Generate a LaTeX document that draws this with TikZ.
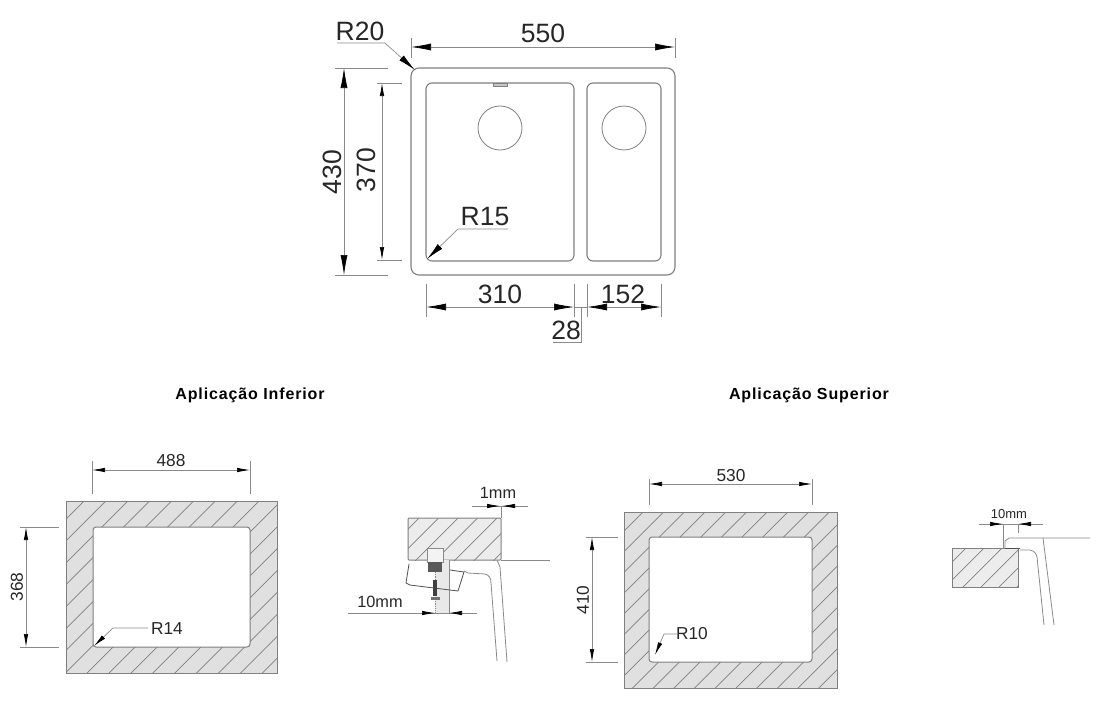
\documentclass[tikz,border=0pt]{standalone}
\usepackage{fontspec}
\setmainfont{Liberation Sans}
\newfontfamily\titlefont[LetterSpace=5.5]{Liberation Sans}
\usetikzlibrary{arrows.meta,positioning}
\definecolor{inkgray}{HTML}{262626}
\definecolor{sinkgray}{HTML}{808080}
\definecolor{thingray}{HTML}{8A8A8A}
\definecolor{ringgray}{HTML}{E0E0E0}
\tikzset{
    sinkline/.style={
            draw=sinkgray,
            line width=1.1pt
        },
    dimline/.style={
            draw=thingray,
            line width=0.7pt
        },
    bigdim/.style={
            dimline,
            {Latex[length=20pt,width=7pt,black]}-{Latex[length=20pt,width=7pt,black]}
        },
    smalldim/.style={
            dimline,
            {Latex[length=13pt,width=4.5pt,black]}-{Latex[length=13pt,width=4.5pt,black]}
        },
    bigleader/.style={
            dimline,
            -{Latex[length=18pt,width=6.5pt,black]}
        },
    smallleader/.style={
            dimline,
            -{Latex[length=13pt,width=4.5pt,black]}
        },
    bigtext/.style={
            font=\fontsize{26.5}{28}\selectfont,
            text=inkgray,
            inner sep=0pt
        },
    smalltext/.style={
            font=\fontsize{17.3}{20}\selectfont,
            text=inkgray,
            inner sep=0pt
        },
    detailtext/.style={
            font=\fontsize{16.3}{18}\selectfont,
            text=inkgray,
            inner sep=0pt
        },
    titletext/.style={
            font=\titlefont\bfseries\fontsize{16}{18}\selectfont,
            text=black,
            inner sep=0pt
        },
    hatchline/.style={
            draw=sinkgray,
            line width=0.7pt
        },
    ringedge/.style={
            draw=sinkgray,
            line width=1pt
        },
    detailline/.style={
            draw=thingray,
            line width=0.8pt
        }
}
\begin{document}
\begin{tikzpicture}[x=1pt,y=-1pt]
  \useasboundingbox (0,0) rectangle (1098,704);
  % sink seen from above
  \draw[sinkline,rounded corners=8pt] (411,68) rectangle (675,275);
  \draw[sinkline,rounded corners=6pt] (426,83) rectangle (574,261);
  \draw[sinkline,rounded corners=6pt] (587,83) rectangle (661,261);
  \draw[sinkline,line width=0.8pt] (500,128) circle (22);
  \draw[sinkline,line width=0.8pt] (624,128) circle (22);
  \draw[sinkline,line width=0.6pt,fill=thingray!50] (493,83) rectangle (507,86);
  % top dimensions
  \draw[bigdim] (411,47) -- (675,47);
  \draw[dimline] (411,38) -- (411,58);
  \draw[dimline] (675,38) -- (675,58);
  \node[bigtext] (width550) at (543,33) {550};
  \draw[bigdim] (344,68) -- (344,275);
  \draw[dimline] (335,68) -- (388,68);
  \draw[dimline] (335,275) -- (388,275);
  \node[bigtext,rotate=90] (height430) at (332,172) {430};
  \draw[smalldim] (382,83) -- (382,260);
  \draw[dimline] (377,83) -- (402,83);
  \draw[dimline] (377,260) -- (402,260);
  \node[bigtext,rotate=90] (height370) at (366,170) {370};
  \draw[bigdim] (426,307) -- (574,307);
  \draw[dimline] (426,284) -- (426,317);
  \draw[dimline] (574,284) -- (574,317);
  \node[bigtext] (width310) at (500,294) {310};
  \draw[bigdim] (587,307) -- (661,307);
  \draw[dimline] (587,284) -- (587,317);
  \draw[dimline] (661,284) -- (661,317);
  \node[bigtext] (width152) at (623,294) {152};
  \draw[dimline] (574,307) -- (587,307);
  \draw[dimline] (581,307) -- (581,342) -- (553,342);
  \node[bigtext] (gap28) at (566,330) {28};
  \node[bigtext] (radius20) at (360,31) {R20};
  \draw[bigleader] (337,43) -- (385,43) -- (415,70);
  \node[bigtext] (radius15) at (485,217) {R15};
  \draw[bigleader] (508,229) -- (458,229) -- (427,259);
  % titles
  \node[titletext] (lowertitle) at (250,395) {Aplicação Inferior};
  \node[titletext] (uppertitle) at (809,395) {Aplicação Superior};
  % cut-out, lower mounting
  \fill[ringgray,even odd rule] (66,501) rectangle (277,673) [rounded corners=3pt] (93,527) rectangle (250,647);
  \begin{scope}[even odd rule]
    \clip (66,501) rectangle (277,673) [rounded corners=3pt] (93,527) rectangle (250,647);
    \foreach \i in {0,...,17}
      \draw[hatchline] ({84+21.9*\i},501) -- ++(-240,240);
  \end{scope}
  \draw[ringedge] (66,501) rectangle (277,673);
  \draw[ringedge,rounded corners=3pt] (93,527) rectangle (250,647);
  \draw[smalldim] (92,470) -- (250,470);
  \draw[dimline] (92,461) -- (92,494);
  \draw[dimline] (250,461) -- (250,494);
  \node[smalltext] (width488) at (171,461) {488};
  \draw[smalldim] (26,527) -- (26,647);
  \draw[dimline] (20,527) -- (59,527);
  \draw[dimline] (20,647) -- (59,647);
  \node[smalltext,rotate=90] (height368) at (17,587) {368};
  \node[smalltext] (radius14) at (167,629) {R14};
  \draw[smallleader] (148,628) -- (113,628) -- (94,646);
  % cut-out, upper mounting
  \fill[ringgray,even odd rule] (624,512) rectangle (837,688) [rounded corners=3pt] (649,537) rectangle (812,662);
  \begin{scope}[even odd rule]
    \clip (624,512) rectangle (837,688) [rounded corners=3pt] (649,537) rectangle (812,662);
    \foreach \i in {0,...,18}
      \draw[hatchline] ({643+20.7*\i},512) -- ++(-240,240);
  \end{scope}
  \draw[ringedge] (624,512) rectangle (837,688);
  \draw[ringedge,rounded corners=3pt] (649,537) rectangle (812,662);
  \draw[smalldim] (649,484) -- (812,484);
  \draw[dimline] (649,479) -- (649,505);
  \draw[dimline] (812,479) -- (812,505);
  \node[smalltext] (width530) at (731,476) {530};
  \draw[smalldim] (592,537) -- (592,662);
  \draw[dimline] (586,537) -- (618,537);
  \draw[dimline] (586,662) -- (618,662);
  \node[smalltext,rotate=90] (height410) at (583,600) {410};
  \node[smalltext] (radius10) at (692,634) {R10};
  \draw[smallleader] (677,634) -- (664,634) -- (655,655);
  % section, lower mounting
  \fill[ringgray!60] (408,518) rectangle (501,560);
  \begin{scope}
    \clip (408,518) rectangle (501,560);
    \foreach \i in {-2,...,6}
      \draw[hatchline] ({419+19.5*\i},518) -- ++(-80,80);
  \end{scope}
  \draw[ringedge,rounded corners=1pt] (408,518) rectangle (501,560);
  \draw[detailline] (501,560) -- (550,560);
  \fill[ringgray!70] (435,560) rectangle (449,613);
  \draw[detailline] (449,560) -- (449,613);
  \draw[detailline,fill=ringgray!40] (427,548) rectangle (443,562);
  \fill[black!65] (428,562) rectangle (442,572);
  \draw[detailline,draw=inkgray!80] (409,564) -- (406,583) -- (410,585) -- (458,591) -- (464,572) -- (450,570);
  \draw[detailline,densely dotted] (435,572) -- (435,613);
  \fill[black!75] (433,580) rectangle (437,596);
  \fill[black!55] (431,597) rectangle (440,600);
  \draw[detailline] (464,571) -- (468,573) -- (485,574) .. controls (489,575) and (491,578) .. (491,583) -- (497,661);
  \draw[detailline] (497,560) -- (500,567) -- (507,662);
  \draw[dimline] (472,506) -- (528,506);
  \draw[dimline,-{Latex[length=13pt,width=4.5pt,black]}] (485,506) -- (500,506);
  \draw[dimline,-{Latex[length=13pt,width=4.5pt,black]}] (517,506) -- (502,506);
  \draw[dimline] (501,506) -- (501,518);
  \node[detailtext] (gap1mm) at (498,493) {1mm};
  \draw[dimline] (348,613) -- (477,613);
  \draw[dimline,-{Latex[length=13pt,width=4.5pt,black]}] (420,613) -- (435,613);
  \draw[dimline,-{Latex[length=13pt,width=4.5pt,black]}] (464,613) -- (449,613);
  \node[detailtext] (lip10mm) at (380,602) {10mm};
  % section, upper mounting
  \fill[ringgray!60] (952,548) rectangle (1018,587);
  \begin{scope}
    \clip (952,548) rectangle (1018,587);
    \foreach \i in {-1,...,5}
      \draw[hatchline] ({966+18*\i},548) -- ++(-60,60);
  \end{scope}
  \draw[ringedge] (952,548) rectangle (1018,587);
  \draw[detailline,draw=inkgray!80] (1005,548) -- (1020,548);
  \draw[detailline] (1090,538) -- (1009,538) -- (1005,541) -- (1005,548);
  \draw[detailline] (1043,538) -- (1054,625);
  \draw[detailline] (1020,550) -- (1030,550) .. controls (1034,551) and (1036,553) .. (1037,557) -- (1044,625);
  \draw[dimline] (979,524) -- (1043,524);
  \draw[dimline,-{Latex[length=13pt,width=4.5pt,black]}] (990,524) -- (1003,524);
  \draw[dimline,-{Latex[length=13pt,width=4.5pt,black]}] (1031,524) -- (1018,524);
  \draw[dimline] (1003,524) -- (1003,548);
  \draw[dimline] (1018,524) -- (1018,533);
  \node[font=\fontsize{13}{15}\selectfont,text=inkgray,inner sep=0pt] (overlap10mm) at (1009,514) {10mm};
\end{tikzpicture}
\end{document}
